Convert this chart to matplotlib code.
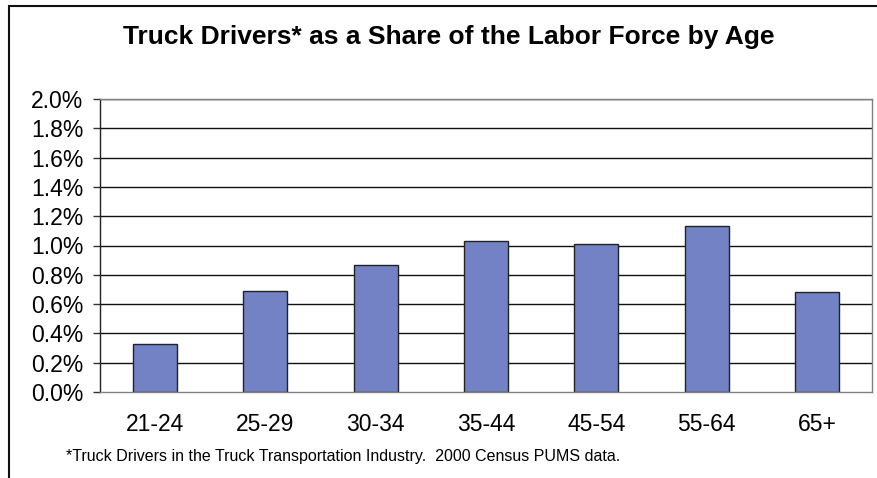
import matplotlib

matplotlib.use("Agg")
import matplotlib.pyplot as plt
from matplotlib.patches import Rectangle
from matplotlib.ticker import FuncFormatter

age_groups = ["21-24", "25-29", "30-34", "35-44", "45-54", "55-64", "65+"]
share_pct = [0.33, 0.69, 0.87, 1.03, 1.01, 1.13, 0.68]
y_ticks = [0.0, 0.2, 0.4, 0.6, 0.8, 1.0, 1.2, 1.4, 1.6, 1.8, 2.0]

title = "Truck Drivers* as a Share of the Labor Force by Age"
footnote = "*Truck Drivers in the Truck Transportation Industry.  2000 Census PUMS data."

plt.rcParams["font.family"] = ["Liberation Sans", "DejaVu Sans"]

fig = plt.figure(figsize=(8.78, 4.78), dpi=100)
ax = fig.add_axes([100 / 878, 1 - 392 / 478, 772 / 878, 293 / 478])

# horizontal gridlines behind the bars
for value in y_ticks[1:]:
    ax.axhline(value, color="#111111", linewidth=1.0, zorder=1)

positions = range(len(age_groups))
ax.bar(positions, share_pct, width=0.4, color="#7282C4",
       edgecolor="#222222", linewidth=1.0, zorder=2)

ax.set_xlim(-0.5, len(age_groups) - 0.5)
ax.set_ylim(0, 2.0)
ax.set_yticks(y_ticks)
ax.yaxis.set_major_formatter(FuncFormatter(lambda v, _: f"{v:.1f}%"))
ax.set_xticks(list(positions))
ax.set_xticklabels(age_groups)
ax.tick_params(axis="y", labelsize=16.5, length=5, width=1, color="#333333", pad=7)
ax.tick_params(axis="x", labelsize=16.5, length=0, pad=15)

for side in ax.spines.values():
    side.set_color("#808080")
    side.set_linewidth(1.0)
ax.spines["left"].set_color("#222222")

fig.text(449 / 878, 1 - 37 / 478, title, ha="center", va="center",
         fontsize=19, fontweight="bold")
fig.text(66 / 878, 1 - 456 / 478, footnote, ha="left", va="center",
         fontsize=11.5)

# outer chart border, only its top and left edges fall inside the image
fig.patches.append(Rectangle((9 / 878, -0.1), 1.2, 1.1 - 6 / 478,
                             transform=fig.transFigure, fill=False,
                             edgecolor="#111111", linewidth=1.5))

fig.savefig("out.png", dpi=100)
plt.close(fig)
